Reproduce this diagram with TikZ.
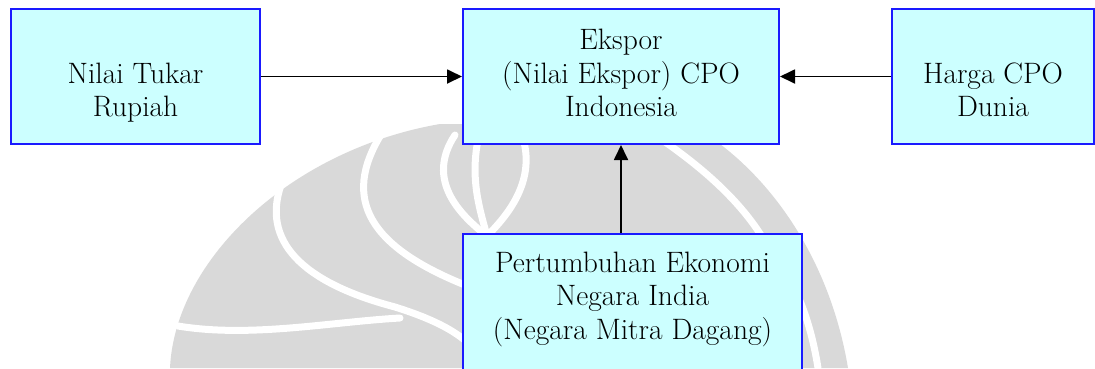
\documentclass[tikz,border=0pt]{standalone}
\usepackage{fontspec}
\usetikzlibrary{arrows.meta}
\definecolor{boxfill}{HTML}{CCFFFF}
\definecolor{boxline}{HTML}{1A1AFF}
\definecolor{wm}{HTML}{D9D9D9}
\begin{document}
\begin{tikzpicture}[x=1pt,y=-1pt,
  box/.style={draw=boxline, line width=2pt, fill=boxfill, inner sep=0pt, align=center,
              font=\rmfamily\fontsize{29.5}{33.5}\selectfont},
  plain/.style={inner sep=0pt, align=center, font=\rmfamily\fontsize{29.5}{33.5}\selectfont},
  arr/.style={line width=1.8pt, -{Triangle[length=15pt,width=14pt]}},
  wline/.style={white, line width=7pt, line cap=round}]
\useasboundingbox (0,0) rectangle (1095,368);
\clip (0,0) rectangle (1095,368);
% watermark (approximate)
\fill[wm] (170,368) .. controls (175,260) and (290,150) .. (440,124) -- (690,124)
  .. controls (770,170) and (830,260) .. (848,368) -- cycle;
\draw[wline] (281,185) .. controls (262,240) and (300,282) .. (395,307)
  .. controls (430,318) and (455,330) .. (470,345);
\draw[wline] (382,133) .. controls (340,200) and (370,248) .. (470,287);
\draw[wline] (178,326) .. controls (250,338) and (330,322) .. (400,318);
\draw[wline] (455,135) .. controls (425,180) and (460,215) .. (487,236);
\draw[wline] (522,135) .. controls (537,180) and (508,215) .. (487,236);
\draw[wline] (478,140) .. controls (470,180) and (480,210) .. (487,236);
\draw[wline] (652,133) .. controls (700,165) and (740,200) .. (764,240);
\draw[wline] (775,255) .. controls (800,290) and (812,330) .. (818,368);
% boxes
\node[box, minimum width=249pt, minimum height=135pt] (rupiah) at (135.5,76.5)
  {\strut\\\strut Nilai Tukar\\\strut Rupiah};
\node[box, minimum width=316pt, minimum height=135pt] (ekspor) at (621,76.5)
  {\strut Ekspor\\\strut (Nilai Ekspor) CPO\\\strut Indonesia};
\node[box, minimum width=202pt, minimum height=135pt] (harga) at (993,76.5)
  {\strut\\\strut Harga CPO\\\strut Dunia};
\node[box, minimum width=339pt, minimum height=160pt] (tumbuh) at (632.5,314) {};
\node[plain] (tumbuhtext) at (632.5,299)
  {\strut Pertumbuhan Ekonomi\\\strut Negara India\\\strut (Negara Mitra Dagang)};
% connectors
\draw[arr] (rupiah) -- (ekspor);
\draw[arr] (harga) -- (ekspor);
\draw[arr] (ekspor.south |- tumbuh.north) -- (ekspor.south);
\end{tikzpicture}
\end{document}
